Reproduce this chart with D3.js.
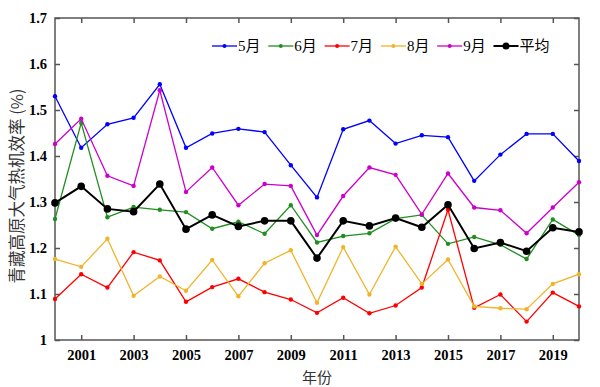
<!DOCTYPE html>
<html><head><meta charset="utf-8">
<script src="https://cdn.jsdelivr.net/npm/d3@7"></script>
<style>body{margin:0;background:#fff}</style>
</head><body>
<svg id="c" width="600" height="387"></svg>
<script>
const years = d3.range(2000, 2021);
const may  = [1.530,1.418,1.469,1.483,1.556,1.418,1.449,1.459,1.452,1.380,1.310,1.458,1.477,1.427,1.445,1.441,1.346,1.403,1.448,1.448,1.389];
const jun  = [1.263,1.472,1.267,1.289,1.283,1.278,1.242,1.257,1.231,1.293,1.212,1.226,1.232,1.264,1.272,1.209,1.224,1.207,1.176,1.262,1.228];
const jul  = [1.089,1.143,1.114,1.191,1.173,1.083,1.115,1.133,1.104,1.088,1.059,1.092,1.058,1.075,1.114,1.283,1.070,1.099,1.040,1.103,1.073];
const aug  = [1.176,1.159,1.220,1.096,1.138,1.107,1.174,1.095,1.167,1.195,1.081,1.202,1.099,1.203,1.122,1.175,1.073,1.069,1.067,1.122,1.143];
const sep  = [1.426,1.481,1.357,1.335,1.543,1.322,1.375,1.293,1.339,1.335,1.228,1.313,1.375,1.359,1.273,1.362,1.288,1.282,1.232,1.288,1.343];
const avg  = [1.298,1.334,1.285,1.279,1.339,1.241,1.272,1.247,1.259,1.259,1.178,1.259,1.248,1.265,1.245,1.294,1.199,1.212,1.193,1.244,1.235];
const seriesNames = ["5月","6月","7月","8月","9月","平均"];
const seriesColors = ["#0000ff","#1f8f1f","#ff0000","#f0b429","#cc00cc","#000000"];
const xTicks = [2001,2003,2005,2007,2009,2011,2013,2015,2017,2019];
const yTicks = [1,1.1,1.2,1.3,1.4,1.5,1.6,1.7];
const yTickLabels = ["1","1.1","1.2","1.3","1.4","1.5","1.6","1.7"];
const series = [may,jun,jul,aug,sep,avg];

const L=55,R=579,T=18,B=340;
const svg = d3.select("#c");
const x = d3.scaleLinear().domain([2000,2020]).range([L,R]);
const y = d3.scaleLinear().domain([1,1.7]).range([B,T]);
const axisColor="#555";

// frame
svg.append("rect").attr("x",L).attr("y",T).attr("width",R-L).attr("height",B-T)
  .attr("fill","none").attr("stroke",axisColor).attr("stroke-width",1.5);

const fontTick = "'Liberation Serif','Times New Roman',serif";
const gx = svg.append("g").attr("transform",`translate(0,${B})`)
  .call(d3.axisBottom(x).tickValues(xTicks).tickFormat(d3.format("d")).tickSizeInner(-5).tickSizeOuter(0).tickPadding(10));
const gxt = svg.append("g").attr("transform",`translate(0,${T})`)
  .call(d3.axisTop(x).tickValues(xTicks).tickFormat("").tickSizeInner(-5).tickSizeOuter(0));
const gy = svg.append("g").attr("transform",`translate(${L},0)`)
  .call(d3.axisLeft(y).tickValues(yTicks).tickFormat((d,i)=>yTickLabels[i]).tickSizeInner(-5).tickSizeOuter(0).tickPadding(8));
const gyr = svg.append("g").attr("transform",`translate(${R},0)`)
  .call(d3.axisRight(y).tickValues(yTicks).tickFormat("").tickSizeInner(-5).tickSizeOuter(0));
[gx,gxt,gy,gyr].forEach(g=>{
  g.select(".domain").remove();
  g.selectAll(".tick line").attr("stroke",axisColor).attr("stroke-width",1.5);
  g.selectAll("text").attr("font-family",fontTick).attr("font-weight","bold")
    .attr("font-size","14.5px").attr("fill","#000");
});

// lines
const line = d3.line().x((d,i)=>x(years[i])).y(d=>y(d));
series.forEach((s,k)=>{
  const isAvg = k===5;
  svg.append("path").datum(s).attr("d",line).attr("fill","none")
    .attr("stroke",seriesColors[k]).attr("stroke-width",isAvg?2:1.3);
  svg.append("g").selectAll("circle").data(s).join("circle")
    .attr("cx",(d,i)=>x(years[i])).attr("cy",d=>y(d)).attr("r",isAvg?3.8:2.2)
    .attr("fill",seriesColors[k]);
});

// legend
const lg = svg.append("g");
seriesNames.forEach((n,k)=>{
  const x0 = 212 + k*56.3, yy = 46;
  const isAvg = k===5;
  lg.append("line").attr("x1",x0).attr("x2",x0+25).attr("y1",yy).attr("y2",yy)
    .attr("stroke",seriesColors[k]).attr("stroke-width",isAvg?2:1.3);
  lg.append("circle").attr("cx",x0+12.5).attr("cy",yy).attr("r",isAvg?3.5:2).attr("fill",seriesColors[k]);
  lg.append("text").attr("x",x0+26).attr("y",yy).attr("dy","0.36em")
    .attr("font-family","'Liberation Serif','Noto Sans CJK SC',serif").attr("font-size","15px")
    .attr("fill","#000").text(n);
});

// axis titles
svg.append("text").attr("x",(L+R)/2).attr("y",378).attr("dy","0.35em").attr("text-anchor","middle")
  .attr("font-family","'Noto Sans CJK SC',sans-serif").attr("font-size","15px").attr("fill","#333").text("年份");
svg.append("text").attr("transform",`translate(17,${(T+B)/2+7}) rotate(-90)`).attr("text-anchor","middle")
  .attr("dy","0.35em").attr("font-family","'Noto Sans CJK SC',sans-serif").attr("font-size","16.5px")
  .attr("fill","#333").text("青藏高原大气热机效率 (%)");
</script>
</body></html>
